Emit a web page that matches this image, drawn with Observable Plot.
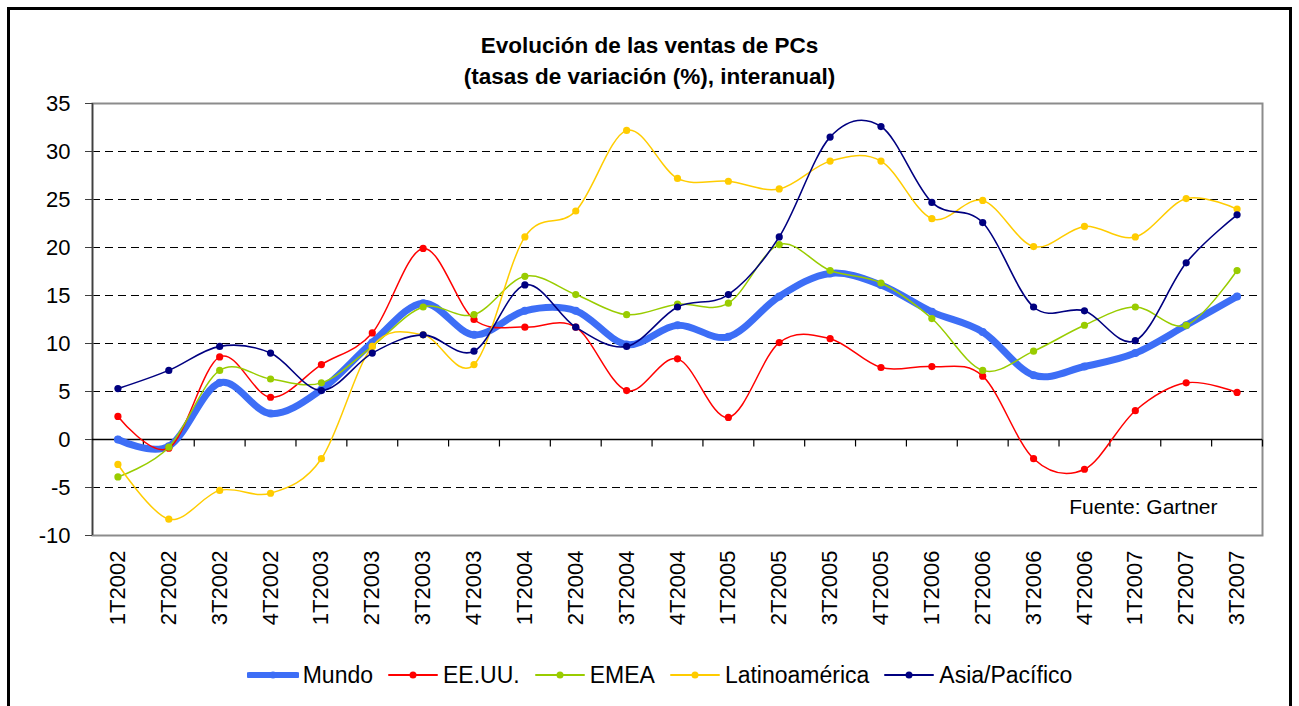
<!DOCTYPE html>
<html>
<head>
<meta charset="utf-8">
<script src="https://cdn.jsdelivr.net/npm/d3@7"></script>
<script src="https://cdn.jsdelivr.net/npm/@observablehq/plot@0.6"></script>
<style>
  body { margin: 0; background: #fff; font-family: "Liberation Sans", Arial, sans-serif; }
  #wrap { position: relative; width: 1299px; height: 706px; overflow: hidden; background: #fff; }
  #border { position: absolute; left: 7px; top: 7px; width: 1285px; height: 730px; border: 3px solid #000; box-sizing: border-box; }
  #title { position: absolute; left: 0; top: 30px; width: 1299px; text-align: center; font-weight: bold; font-size: 22.5px; line-height: 31px; color: #000; }
  #chart { position: absolute; left: 0; top: 90px; }
  #legend { position: absolute; left: 10px; top: 660px; width: 1299px; display: flex; justify-content: center; align-items: center; font-size: 23px; line-height: 30px; color: #000; }
  #legend .item { display: flex; align-items: center; margin: 0 7px; }
  #legend svg { margin-right: 4px; }
</style>
</head>
<body>
<div id="wrap">
  <div id="border"></div>
  <div id="title">Evolución de las ventas de PCs<br>(tasas de variación (%), interanual)</div>
  <div id="chart"></div>
  <div id="legend"></div>
</div>
<script>
// ---- data ----
const quarters = ["1T2002","2T2002","3T2002","4T2002","1T2003","2T2003","3T2003","4T2003",
  "1T2004","2T2004","3T2004","4T2004","1T2005","2T2005","3T2005","4T2005",
  "1T2006","2T2006","3T2006","4T2006","1T2007","2T2007","3T2007"];
const seriesNames = ["Mundo", "EE.UU.", "EMEA", "Latinoamérica", "Asia/Pacífico"];
const mundo  = [0.0, -0.7, 5.9, 2.7, 5.2, 10.1, 14.2, 10.9, 13.4, 13.4, 9.9, 11.9, 10.7, 14.9, 17.3, 16.1, 13.3, 11.2, 6.7, 7.6, 9.0, 11.9, 14.9];
const eeuu   = [2.4, -0.9, 8.6, 4.4, 7.8, 11.1, 19.9, 12.5, 11.7, 11.7, 5.1, 8.4, 2.3, 10.1, 10.5, 7.5, 7.6, 6.6, -2.0, -3.1, 3.0, 5.9, 4.9];
const emea   = [-3.9, -0.8, 7.2, 6.3, 5.9, 9.7, 13.8, 13.0, 17.0, 15.1, 13.0, 14.1, 14.2, 20.3, 17.6, 16.3, 12.6, 7.2, 9.2, 11.9, 13.8, 11.9, 17.6];
const latam  = [-2.6, -8.3, -5.3, -5.6, -2.0, 9.7, 10.9, 7.8, 21.1, 23.8, 32.2, 27.2, 26.9, 26.1, 29.0, 29.0, 23.0, 24.9, 20.1, 22.2, 21.1, 25.1, 24.0];
const asia   = [5.3, 7.2, 9.7, 9.0, 5.1, 9.0, 10.9, 9.2, 16.1, 11.7, 9.7, 13.8, 15.1, 21.1, 31.5, 32.6, 24.7, 22.6, 13.8, 13.4, 10.3, 18.4, 23.4];
const yTicks = [-10, -5, 0, 5, 10, 15, 20, 25, 30, 35];
const gridValues = [-5, 5, 10, 15, 20, 25, 30];
const sourceText = "Fuente: Gartner";

// ---- styles ----
const colors = ["#3D6EF6", "#FF0000", "#99CC00", "#FFCC00", "#000080"];
const widths = [7, 1.5, 1.5, 1.5, 1.6];
const radii  = [4, 3.6, 3.6, 3.6, 3.6];
const allValues = [mundo, eeuu, emea, latam, asia];

const series = seriesNames.map((name, k) => ({
  name, color: colors[k], width: widths[k], r: radii[k],
  rows: allValues[k].map((v, i) => ({x: i + 0.5, y: v, q: quarters[i]}))
}));

const xTickPos = quarters.map((_, i) => i + 0.5);
const boundaries = d3.range(1, quarters.length + 1);
const tickDown = { draw(ctx) { ctx.moveTo(0, 0); ctx.lineTo(0, 7); } };

const marks = [
  Plot.ruleY(gridValues, {stroke: "#000", strokeWidth: 1, strokeDasharray: "8,5"}),
  Plot.frame({stroke: "#8c8c8c", strokeWidth: 2}),
  Plot.ruleX([0], {stroke: "#404040", strokeWidth: 1.5}),
  Plot.ruleY([0], {stroke: "#000", strokeWidth: 1.3}),
  Plot.dot(boundaries, {x: d => d, y: 0, symbol: tickDown, stroke: "#000", strokeWidth: 1.2, fill: "none"}),
  Plot.axisY(yTicks, {label: null, tickFormat: d => String(d), tickSize: 7, tickPadding: 15, fontSize: 22, stroke: "#404040"}),
  Plot.axisX(xTickPos, {label: null, tickFormat: d => quarters[Math.round(d - 0.5)], tickRotate: -90, tickSize: 0, tickPadding: 15, fontSize: 22}),
  Plot.text([sourceText], {text: d => d, frameAnchor: "bottom-right", dx: -45, dy: -22, fontSize: 21, textAnchor: "end", lineAnchor: "bottom", fill: "#000"})
];
for (const s of series) {
  marks.push(Plot.lineY(s.rows, {x: "x", y: "y", curve: "cardinal", stroke: s.color, strokeWidth: s.width, strokeLinecap: "round", strokeLinejoin: "round"}));
  marks.push(Plot.dot(s.rows, {x: "x", y: "y", r: s.r, fill: s.color, stroke: "none"}));
}

const chart = Plot.plot({
  width: 1299,
  height: 550,
  marginTop: 13,
  marginLeft: 92,
  marginRight: 37,
  marginBottom: 105,
  x: {type: "linear", domain: [0, quarters.length], label: null},
  y: {domain: [-10, 35], label: null},
  style: {fontFamily: "'Liberation Sans', Arial, sans-serif", fontSize: "22px", color: "#000", background: "transparent", overflow: "visible"},
  marks
});
document.getElementById("chart").appendChild(chart);

// ---- legend ----
const legend = document.getElementById("legend");
for (const s of series) {
  const item = document.createElement("span");
  item.className = "item";
  const sw = s.width > 3 ? 6 : 2;
  item.innerHTML = `<svg width="52" height="14"><line x1="2" y1="7" x2="50" y2="7" stroke="${s.color}" stroke-width="${sw}" stroke-linecap="round"/><circle cx="26" cy="7" r="3.5" fill="${s.color}"/></svg><span>${s.name}</span>`;
  legend.appendChild(item);
}
</script>
</body>
</html>
